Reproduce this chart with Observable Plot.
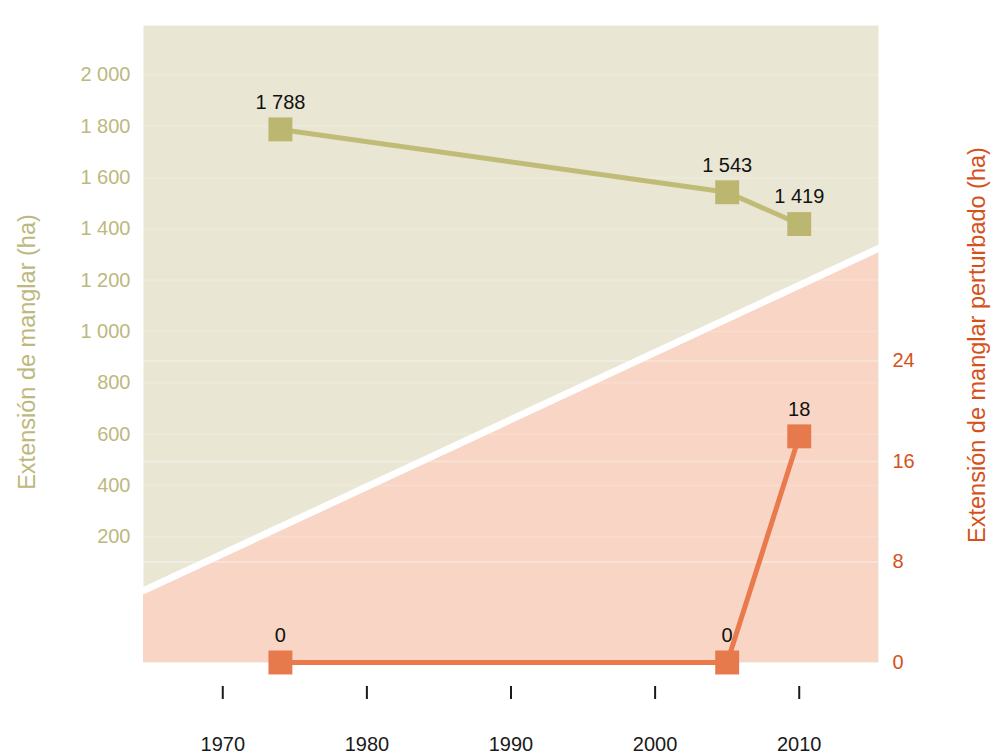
<!DOCTYPE html>
<html><head><meta charset="utf-8">
<script src="https://cdn.jsdelivr.net/npm/d3@7"></script>
<script src="https://cdn.jsdelivr.net/npm/@observablehq/plot@0.6"></script>
<style>
body{margin:0;background:#fff;}
#chart{position:absolute;left:0;top:0;}
</style></head><body><div id="chart"></div>
<script>
// ---- data ----
const years = [1974, 2005, 2010];
const mangrove = [1788, 1543, 1419];          // Extensión de manglar (ha)
const disturbed = [0, 0, 18];                  // Extensión de manglar perturbado (ha)
const xTicks = [1970, 1980, 1990, 2000, 2010];
const leftTicks = [200, 400, 600, 800, 1000, 1200, 1400, 1600, 1800, 2000];
const rightTicks = [0, 8, 16, 24];
const dividerYears = [1964.5, 2015.5];         // decorative diagonal between the two backgrounds
const dividerValues = [-10, 1324];
const leftTitle = "Extensión de manglar (ha)";
const rightTitle = "Extensión de manglar perturbado (ha)";

// ---- scales ----
const xDomain = [1964.5, 2015.5];
const leftDomain = [-290, 2193];
const rightDomain = [0, 50.7];
const toLeft = v => leftDomain[0] + (v - rightDomain[0]) / (rightDomain[1] - rightDomain[0]) * (leftDomain[1] - leftDomain[0]);
const fromLeft = v => rightDomain[0] + (v - leftDomain[0]) / (leftDomain[1] - leftDomain[0]) * (rightDomain[1] - rightDomain[0]);
const fmt = d => d3.format(",")(d).replace(/,/g, " ");

const greenData = years.map((year, i) => ({year, value: mangrove[i], label: fmt(mangrove[i])}));
const orangeData = years.map((year, i) => ({year, value: toLeft(disturbed[i]), label: String(disturbed[i])}));
const divider = dividerYears.map((year, i) => ({year, value: dividerValues[i]}));

const OLIVE_TXT = "#bdb87e";
const ORANGE_TXT = "#d5511c";
const GREEN_LINE = "#c0bc78";
const GREEN_MARK = "#bbb771";
const ORANGE_LINE = "#ea7a4c";
const ORANGE_MARK = "#e67a4d";

const chart = Plot.plot({
  width: 993,
  height: 756,
  marginLeft: 143,
  marginRight: 115,
  marginTop: 25,
  marginBottom: 94,
  style: {fontFamily: "'Liberation Sans', Arial, sans-serif", fontSize: "20px", background: "white", overflow: "visible"},
  x: {domain: xDomain},
  y: {domain: leftDomain},
  marks: [
    Plot.frame({fill: "#e9e6d4", stroke: null}),
    Plot.areaY(divider, {x: "year", y1: leftDomain[0], y2: "value", fill: "#f8d5c4"}),
    Plot.ruleY(leftTicks, {stroke: "white", strokeOpacity: 0.18, strokeWidth: 2}),
    Plot.ruleY(rightTicks.filter(d => d > 0).map(toLeft), {stroke: "white", strokeOpacity: 0.3, strokeWidth: 2}),
    Plot.lineY(divider, {x: "year", y: "value", stroke: "white", strokeWidth: 7}),
    Plot.axisX(xTicks, {tickSize: 13, dy: 24, tickPadding: 37, color: "#1a1a1a", strokeWidth: 2, label: null, tickFormat: d => String(d), fontSize: 20}),
    Plot.axisY(leftTicks, {anchor: "left", tickSize: 0, tickPadding: 13, color: OLIVE_TXT, tickFormat: fmt, label: null, fontSize: 20}),
    Plot.axisY(rightTicks.map(toLeft), {anchor: "right", tickSize: 0, tickPadding: 14, color: ORANGE_TXT, tickFormat: d => String(Math.round(fromLeft(d))), label: null, fontSize: 20}),
    Plot.lineY(greenData, {x: "year", y: "value", stroke: GREEN_LINE, strokeWidth: 5}),
    Plot.lineY(orangeData, {x: "year", y: "value", stroke: ORANGE_LINE, strokeWidth: 5}),
    Plot.dot(greenData, {x: "year", y: "value", symbol: "square", r: 13.5, fill: GREEN_MARK, stroke: null}),
    Plot.dot(orangeData, {x: "year", y: "value", symbol: "square", r: 13.5, fill: ORANGE_MARK, stroke: null}),
    Plot.text(greenData, {x: "year", y: "value", text: "label", dy: -27, fill: "#111", fontSize: 20}),
    Plot.text(orangeData, {x: "year", y: "value", text: "label", dy: -27, fill: "#111", fontSize: 20}),
    Plot.text([leftTitle], {frameAnchor: "left", textAnchor: "middle", rotate: -90, dx: -116, dy: 8, fill: OLIVE_TXT, fontSize: 23.5}),
    Plot.text([rightTitle], {frameAnchor: "right", textAnchor: "middle", rotate: -90, dx: 99, dy: 1, fill: ORANGE_TXT, fontSize: 23.5})
  ]
});
document.getElementById("chart").appendChild(chart);
</script>
</body></html>
